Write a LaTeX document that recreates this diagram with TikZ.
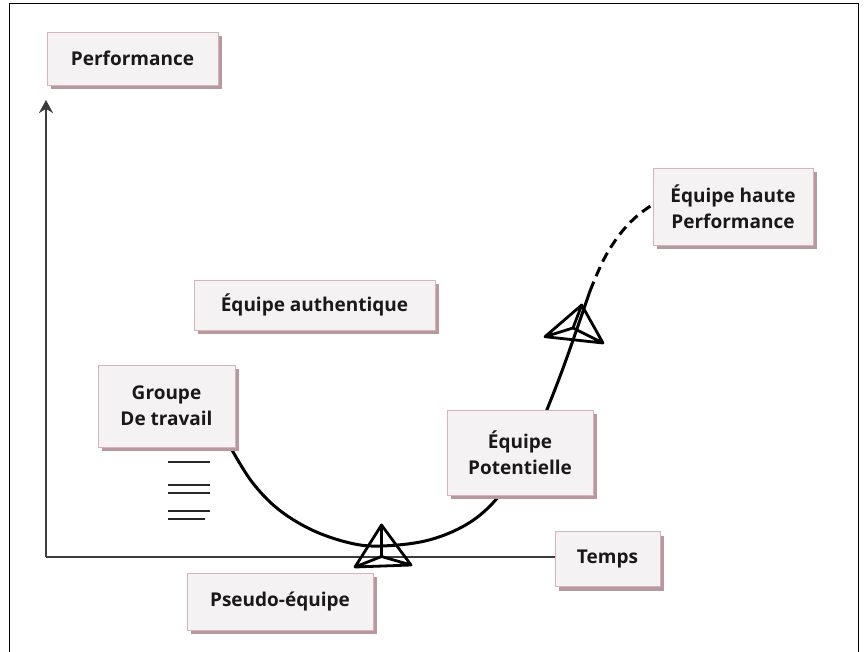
\documentclass[tikz,border=0pt]{standalone}
\usepackage{fontspec}
\setmainfont{Open Sans}
\usetikzlibrary{shadows,arrows.meta}
\definecolor{boxfill}{HTML}{F5F2F3}
\definecolor{boxline}{HTML}{D6B3BA}
\definecolor{boxshade}{HTML}{B7989E}
\definecolor{axisgray}{HTML}{3C3C3C}
\begin{document}
\begin{tikzpicture}[x=1pt,y=-1pt,
  label box/.style={draw=boxline, line width=0.9pt, fill=boxfill, text=black!90,
    font=\fontsize{19}{26}\selectfont\bfseries, align=center, inner sep=0pt,
    drop shadow={shadow xshift=4pt, shadow yshift=-4pt, fill=boxshade, opacity=1}},
  axis line/.style={draw=axisgray, line width=2.6pt},
  path line/.style={draw=black, line width=3pt, line cap=round},
  marker/.style={draw=black, line width=2.8pt, line join=round},
  tick mark/.style={draw=black!85, line width=2.4pt}]
\useasboundingbox (0,0) rectangle (864,652);

% outer frame
\draw[black, line width=1pt] (9,652) -- (9,4) -- (858,4) -- (858,652);

% axes
\coordinate (origin) at (46,557);
\coordinate (ytop) at (46,100);
\draw[axis line, -{Stealth[length=13pt,width=14pt]}] (origin) -- (ytop);

% team development curve (drawn before the boxes, which sit over it)
\draw[path line] plot[smooth, tension=0.6] coordinates {
  (232,450) (252,482) (278,509) (312,530) (350,543) (381,546) (425,541)
  (462,527) (490,506) (515,474) (535,438) (550,402) (566,360) (590,291)};
\draw[path line, line cap=butt, dash pattern=on 10pt off 6pt] plot[smooth, tension=0.6] coordinates {
  (590,291) (604,259) (620,234) (637,216) (655,203)};

% labelled stages
\node[label box, minimum width=171pt, minimum height=53pt] (perf) at (132.5,58.5) {Performance};
\node[label box, minimum width=241pt, minimum height=50pt] (auth) at (314.5,305) {Équipe authentique};
\node[label box, minimum width=137pt, minimum height=82pt] (grp) at (166.5,406) {Groupe\\De travail};
\node[label box, minimum width=146pt, minimum height=85pt] (pot) at (520,452.5) {Équipe\\Potentielle};
\node[label box, minimum width=160pt, minimum height=77pt] (high) at (733,206.5) {Équipe haute\\Performance};
\node[label box, minimum width=105pt, minimum height=55pt] (time) at (607.5,559) {Temps};
\node[label box, minimum width=186pt, minimum height=57pt] (pseudo) at (280,601.5) {Pseudo-équipe};

% time axis runs into its label
\draw[axis line] (origin) -- (time.west |- origin);

% short strokes under the work group
\foreach \y/\r in {462/210, 485/210, 493/210, 511/210, 519/205}
  \draw[tick mark] (168,\y) -- (\r,\y);

% pyramid markers on the curve
\draw[marker] (355,567) -- (381.5,525) -- (411,565) -- cycle
              (381.5,525) -- (381.5,556.5) (355,567) -- (381.5,556.5) -- (411,565);
\draw[marker] (545,336.7) -- (581.7,305) -- (603,343) -- cycle
              (581.7,305) -- (573,328) (545,336.7) -- (573,328) -- (603,343);
\end{tikzpicture}
\end{document}
